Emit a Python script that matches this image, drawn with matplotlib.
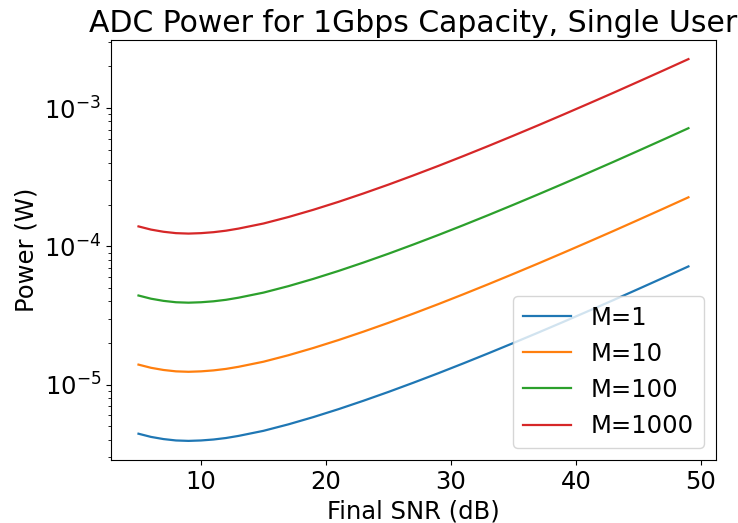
import matplotlib
matplotlib.use("Agg")
import matplotlib.pyplot as plt

# Final SNR grid (dB)
snr_db = [5, 6, 7, 8, 9, 10, 11, 12, 13, 15, 17, 19, 21, 23, 25, 27, 29,
          31, 33, 35, 37, 39, 41, 43, 45, 47, 49]

# ADC power (W) for each array size M
power_m1 = [4.405e-6, 4.177e-6, 4.029e-6, 3.937e-6, 3.909e-6, 3.937e-6, 4.000e-6,
            4.101e-6, 4.247e-6, 4.623e-6, 5.151e-6, 5.815e-6, 6.631e-6, 7.631e-6,
            8.839e-6, 1.031e-5, 1.208e-5, 1.423e-5, 1.683e-5, 1.998e-5, 2.379e-5,
            2.841e-5, 3.403e-5, 4.083e-5, 4.914e-5, 5.923e-5, 7.153e-5]
power_m10 = [1.393e-5, 1.321e-5, 1.274e-5, 1.245e-5, 1.236e-5, 1.245e-5, 1.265e-5,
             1.297e-5, 1.343e-5, 1.462e-5, 1.629e-5, 1.839e-5, 2.097e-5, 2.413e-5,
             2.795e-5, 3.260e-5, 3.820e-5, 4.500e-5, 5.322e-5, 6.318e-5, 7.522e-5,
             8.985e-5, 1.076e-4, 1.291e-4, 1.554e-4, 1.873e-4, 2.262e-4]
power_m100 = [4.405e-5, 4.177e-5, 4.029e-5, 3.937e-5, 3.909e-5, 3.937e-5, 4.000e-5,
              4.101e-5, 4.247e-5, 4.623e-5, 5.151e-5, 5.815e-5, 6.631e-5, 7.631e-5,
              8.839e-5, 1.031e-4, 1.208e-4, 1.423e-4, 1.683e-4, 1.998e-4, 2.379e-4,
              2.841e-4, 3.403e-4, 4.083e-4, 4.914e-4, 5.923e-4, 7.153e-4]
power_m1000 = [1.393e-4, 1.321e-4, 1.274e-4, 1.245e-4, 1.236e-4, 1.245e-4, 1.265e-4,
               1.297e-4, 1.343e-4, 1.462e-4, 1.629e-4, 1.839e-4, 2.097e-4, 2.413e-4,
               2.795e-4, 3.260e-4, 3.820e-4, 4.500e-4, 5.322e-4, 6.318e-4, 7.522e-4,
               8.985e-4, 1.076e-3, 1.291e-3, 1.554e-3, 1.873e-3, 2.262e-3]

labels = ["M=1", "M=10", "M=100", "M=1000"]
series = [power_m1, power_m10, power_m100, power_m1000]

plt.rcParams["font.size"] = 17.5

fig = plt.figure(figsize=(7.38, 5.23), dpi=100)
ax = fig.add_axes([0.1504, 0.1205, 0.8197, 0.803])

for vals, lab in zip(series, labels):
    ax.plot(snr_db, vals, label=lab, linewidth=1.6)

ax.set_yscale("log")
ax.set_xlabel("Final SNR (dB)")
ax.set_ylabel("Power (W)")
ax.set_title("ADC Power for 1Gbps Capacity, Single User", fontsize=21.5)
ax.legend(loc="lower right")

fig.savefig("out.png", dpi=100)
